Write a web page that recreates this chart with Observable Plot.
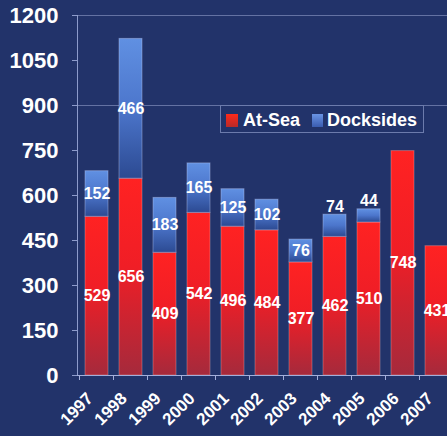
<!DOCTYPE html>
<html>
<head>
<meta charset="utf-8">
<script src="https://cdn.jsdelivr.net/npm/d3@7"></script>
<script src="https://cdn.jsdelivr.net/npm/@observablehq/plot@0.6"></script>
<style>
  html, body { margin: 0; padding: 0; background: #22336a; overflow: hidden; }
  #wrap { position: relative; width: 447px; height: 436px; overflow: hidden; }
  #chart svg { max-width: none !important; }
  #legend {
    position: absolute; left: 220px; top: 105px; width: 202px; height: 26px;
    border: 1px solid rgba(170,182,225,0.55); background: #22336a;
    font-family: "Liberation Sans", Arial, sans-serif; font-weight: bold; font-size: 18px; color: #fff;
  }
  #legend .sw { position: absolute; top: 8px; width: 12px; height: 13px; }
  #legend .lb { position: absolute; top: 4px; line-height: 20px; }
</style>
</head>
<body>
<div id="wrap">
  <div id="chart"></div>
  <div id="legend">
    <div class="sw" style="left:5px;background:linear-gradient(#ff2a1a,#b82a2a);"></div>
    <div class="lb" style="left:22px;">At-Sea</div>
    <div class="sw" style="left:91px;width:11px;background:linear-gradient(#6a94e4,#3a5cb0);"></div>
    <div class="lb" style="left:106px;">Docksides</div>
  </div>
</div>
<script>
const years = ["1997","1998","1999","2000","2001","2002","2003","2004","2005","2006","2007"];
const atSea = [529, 656, 409, 542, 496, 484, 377, 462, 510, 748, 431];
const docksides = [152, 466, 183, 165, 125, 102, 76, 74, 44, 0, 0];
const yTicks = [0, 150, 300, 450, 600, 750, 900, 1050, 1200];
const gridValues = [900, 1200];

const table = years.map((year, i) => ({year, atSea: atSea[i], docks: docksides[i]}));
const docksRows = table.filter(d => d.docks > 0);
const font = "'Liberation Sans', Arial, sans-serif";

const plot = Plot.plot({
  width: 456,
  height: 436,
  marginLeft: 77,
  marginRight: 0,
  marginTop: 15,
  marginBottom: 61,
  style: {background: "#22336a", color: "#8d9bcb", fontFamily: font, fontWeight: "bold", overflow: "visible", maxWidth: "none"},
  x: {type: "band", domain: years, paddingInner: 0.33, paddingOuter: 0.19, align: 0.5, axis: null},
  y: {domain: [0, 1200], ticks: yTicks, tickSize: 5, tickFormat: () => "", label: null, line: true},
  marks: [
    Plot.ruleY(gridValues, {stroke: "#9aa6d2", strokeOpacity: 0.55}),
    Plot.barY(table, {x: "year", y1: 0, y2: "atSea", fill: "url(#gRed)", stroke: "#f0b8b8", strokeOpacity: 0.35}),
    Plot.barY(docksRows, {x: "year", y1: "atSea", y2: d => d.atSea + d.docks, fill: "url(#gBlue)", stroke: "#c0ccf4", strokeOpacity: 0.4}),
    Plot.ruleY([0], {stroke: "#a3afdb"}),
    Plot.text(yTicks, {y: d => d, frameAnchor: "left", dx: -19, textAnchor: "end", text: d => String(d), fill: "#fff", fontSize: 22, fontWeight: "bold"}),
    Plot.text(years, {x: d => d, frameAnchor: "bottom", rotate: -45, textAnchor: "end", dx: -3, dy: 24, text: d => d, fill: "#fff", fontSize: 17, fontWeight: "bold"}),
    Plot.text(table, {x: "year", y: d => d.atSea / 2, text: d => String(d.atSea), fill: "#fff", fontSize: 16, fontWeight: "bold"}),
    Plot.text(docksRows.filter(d => d.docks >= 75), {x: "year", y: d => d.atSea + d.docks / 2, text: d => String(d.docks), fill: "#fff", fontSize: 16, fontWeight: "bold"}),
    Plot.text(docksRows.filter(d => d.docks < 75), {x: "year", y: d => d.atSea + d.docks, dy: -8, text: d => String(d.docks), fill: "#fff", fontSize: 16, fontWeight: "bold"})
  ]
});
plot.style.maxWidth = "none";

const svg = d3.select(plot);
const defs = svg.insert("defs", ":first-child");
const gr = defs.append("linearGradient").attr("id", "gRed").attr("x1", 0).attr("y1", 0).attr("x2", 0).attr("y2", 1);
gr.append("stop").attr("offset", 0).attr("stop-color", "#ff2222");
gr.append("stop").attr("offset", 0.45).attr("stop-color", "#f01e26");
gr.append("stop").attr("offset", 1).attr("stop-color", "#a52a3c");
const gb = defs.append("linearGradient").attr("id", "gBlue").attr("x1", 0).attr("y1", 0).attr("x2", 0).attr("y2", 1);
gb.append("stop").attr("offset", 0).attr("stop-color", "#6090e2");
gb.append("stop").attr("offset", 0.5).attr("stop-color", "#4c76cc");
gb.append("stop").attr("offset", 1).attr("stop-color", "#2c4a92");

// category boundary ticks below the baseline, positioned through the x scale
try {
  const xs = plot.scale("x");
  const ys = plot.scale("y");
  if (xs && xs.apply && ys && ys.apply) {
    const step = xs.step || (xs.bandwidth / (1 - 0.33));
    const y0 = ys.apply(0);
    const g = svg.append("g");
    years.forEach(yr => {
      const cx = xs.apply(yr) + xs.bandwidth / 2;
      g.append("line").attr("x1", cx - step / 2).attr("x2", cx - step / 2)
        .attr("y1", y0).attr("y2", y0 + 5).attr("stroke", "#a3afdb");
    });
  }
} catch (e) {}

document.getElementById("chart").appendChild(plot);
</script>
</body>
</html>
